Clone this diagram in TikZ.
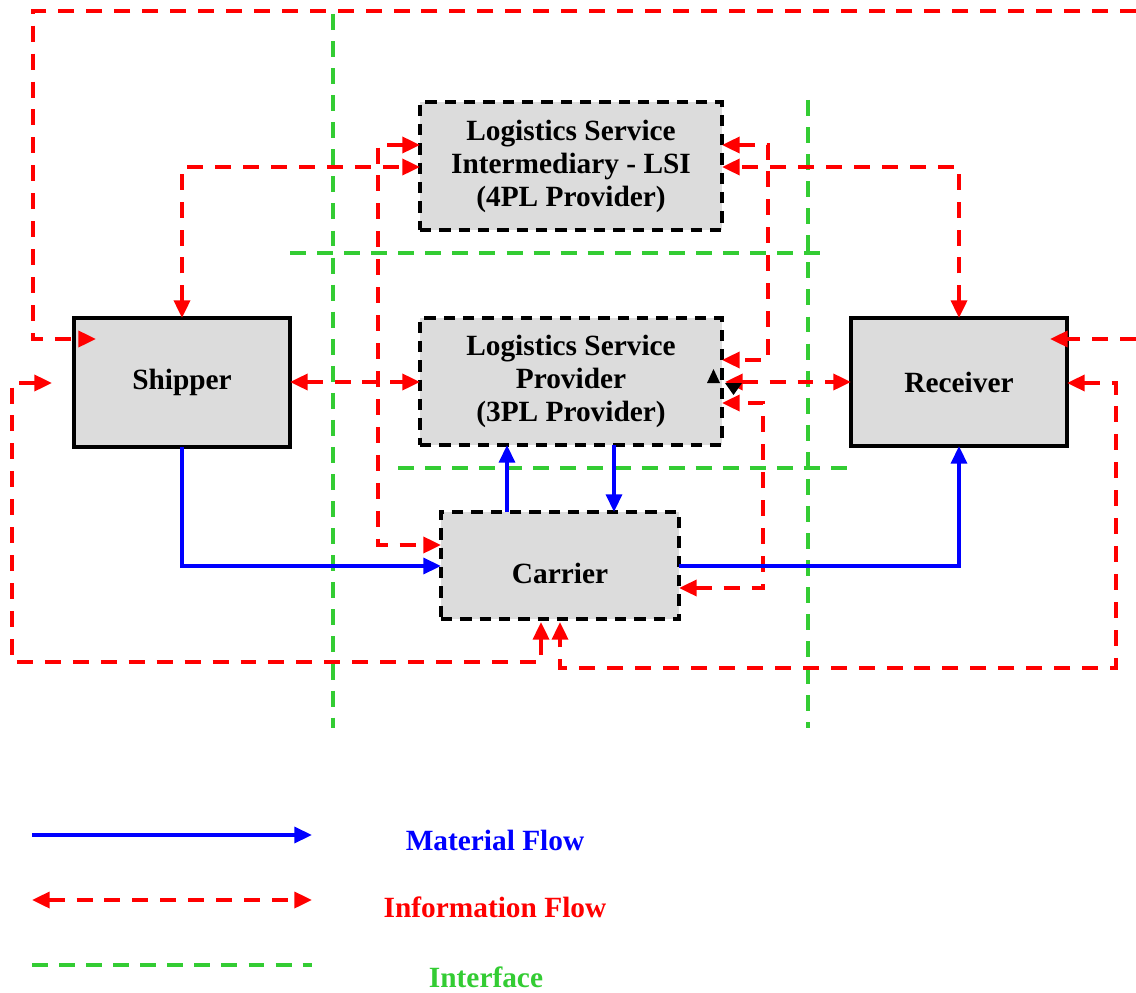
\documentclass[tikz,border=0pt]{standalone}
\usepackage{fontspec}
\setmainfont{Liberation Serif}
\usetikzlibrary{arrows.meta,calc}

\definecolor{boxgray}{HTML}{DCDCDC}
\definecolor{infored}{HTML}{FF0000}
\definecolor{matblue}{HTML}{0000FF}
\definecolor{ifgreen}{HTML}{33CC33}

\tikzset{
  tri/.tip={Triangle[length=10pt,width=9pt]},
  box/.style={draw=black, fill=boxgray, line width=2pt, outer sep=0pt,
    inner sep=0pt, align=center,
    font=\fontsize{16.7pt}{18.8pt}\selectfont\bfseries},
  dbox/.style={box, dash pattern=on 6.5pt off 4.5pt},
  info/.style={draw=infored, line width=2.2pt, dash pattern=on 9.1pt off 6.8pt},
  mat/.style={draw=matblue, line width=2pt},
  iface/.style={draw=ifgreen, line width=2pt, dash pattern=on 9.1pt off 6.3pt},
  legtext/.style={font=\fontsize{16.7pt}{18.8pt}\selectfont\bfseries, inner sep=0pt}
}

\begin{document}
\begin{tikzpicture}[x=0.2mm, y=-0.2mm]
\useasboundingbox (0,0) rectangle (1136,993);

% interfaces between the parties
\draw[iface] (333,14) -- (333,728);
\draw[iface] (808,100) -- (808,728);
\draw[iface] (290,253) -- (830,253);
\draw[iface] (398,468) -- (850,468);

% parties
\node[dbox, minimum width=60.4mm, minimum height=25.6mm] (lsi) at (571,166)
  {Logistics Service\\Intermediary - LSI\\(4PL Provider)};
\node[box, minimum width=43.2mm, minimum height=25.8mm] (shipper) at (182,382.5) {Shipper};
\node[dbox, minimum width=60.4mm, minimum height=25.4mm] (lsp) at (571,381.5)
  {Logistics Service\\Provider\\(3PL Provider)};
\node[box, minimum width=43.2mm, minimum height=25.6mm] (receiver) at (959,382) {Receiver};
\node[dbox, minimum width=47.6mm, minimum height=21.4mm, text depth=0pt] (carrier) at (560,565.5)
  {\raisebox{-9pt}{Carrier}};

% information flows
\coordinate (edgeTop) at (1136,11);
\coordinate (edgeRight) at (1136,339);
\draw[info,-tri] (edgeTop) -- (33,11) -- (33,339) -- ($(shipper.west|-0,339)+(22,0)$);
\draw[info,-tri] (edgeRight) -- ($(receiver.east|-0,339)+(-17,0)$);
\draw[info,tri-tri] ($(shipper.west|-0,383)+(-22,0)$) -- (12,383) -- (12,662)
  -- (541,662) -- ($(carrier.south-|541,0)+(0,3)$);
\draw[info,tri-tri] (receiver.east|-0,383) -- (1116,383) -- (1116,668)
  -- (560,668) -- ($(carrier.south-|560,0)+(0,3)$);
\draw[info,tri-tri] (shipper.east|-0,382) -- (lsp.west|-0,382);
\draw[info,tri-tri] (lsi.west|-0,145) -- (378,145) -- (378,545) -- (carrier.west|-0,545);
\draw[info,tri-tri] (shipper.north) -- (182,167) -- (lsi.west|-0,167);
\draw[info,tri-tri] (lsi.east|-0,145) -- (768,145) -- (768,360) -- (lsp.east|-0,360);
\draw[info,tri-tri] (receiver.north) -- (959,167) -- (lsi.east|-0,167);
\draw[info,tri-tri] ($(lsp.east|-0,382)+(3,0)$) -- (receiver.west|-0,382);
\draw[info,tri-tri] (carrier.east|-0,588) -- (763,588) -- (763,403) -- (lsp.east|-0,403);

% stray tips beside the 3PL provider
\fill (707,383) -- (720,383) -- (713.5,369) -- cycle;
\fill (725,383) -- (742,383) -- (733.5,395) -- cycle;

% material flows
\draw[mat,-tri] (shipper.south) -- (182,566) -- (carrier.west|-0,566);
\draw[mat,-tri] (carrier.north-|507,0) -- (lsp.south-|507,0);
\draw[mat,-tri] (lsp.south-|614,0) -- (carrier.north-|614,0);
\draw[mat,-tri] (carrier.east|-0,566) -- (959,566) -- (receiver.south);

% legend
\coordinate (m1) at (32,835); \coordinate (m2) at (312,835);
\coordinate (i1) at (32,900); \coordinate (i2) at (312,900);
\coordinate (g1) at (32,965); \coordinate (g2) at (312,965);
\draw[mat,-tri] (m1) -- (m2);
\draw[info,tri-tri] (i1) -- (i2);
\draw[iface] (g1) -- (g2);
\node[legtext, text=matblue] (lmat) at (495,840) {Material Flow};
\node[legtext, text=infored] (linfo) at (495,907) {Information Flow};
\node[legtext, text=ifgreen] (lif) at (486,977) {Interface};
\end{tikzpicture}
\end{document}
